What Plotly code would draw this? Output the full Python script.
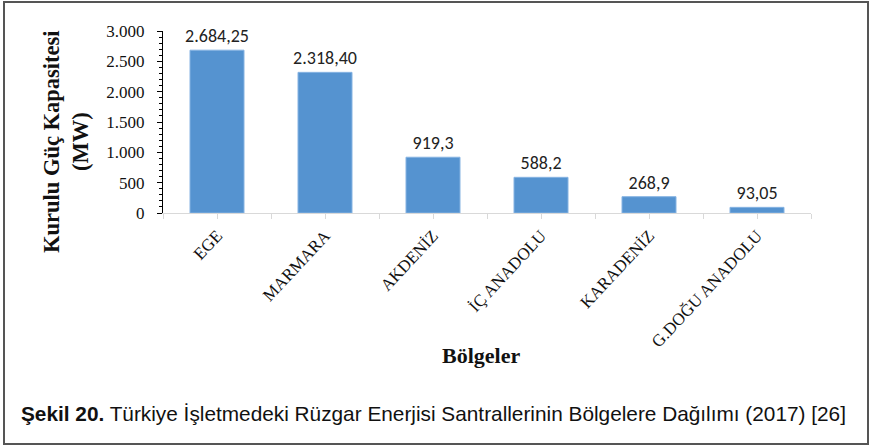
import plotly.graph_objects as go

categories = ["EGE", "MARMARA", "AKDENİZ", "İÇ ANADOLU", "KARADENİZ", "G.DOĞU ANADOLU"]
values = [2684.25, 2318.40, 919.3, 588.2, 268.9, 93.05]
value_labels = ["2.684,25", "2.318,40", "919,3", "588,2", "268,9", "93,05"]
y_ticks = [0, 500, 1000, 1500, 2000, 2500, 3000]

W, H = 869, 447
L, R, T, B = 163, 58, 31, 234
pw, ph = W - L - R, H - T - B

def px(x):
    return (x - L) / pw

def py(y):
    return (H - B - y) / ph

xs = list(range(len(categories)))

fig = go.Figure()
fig.add_trace(go.Bar(
    x=xs, y=values, width=0.5,
    text=value_labels, textposition="outside", constraintext="none",
    textfont=dict(family="Carlito, Lato, Open Sans, sans-serif", size=18, color="#222222"),
    cliponaxis=False,
    marker=dict(color="#5593d0", line=dict(color="#86b3e2", width=1)),
))

serif = "Liberation Serif, Times New Roman, serif"
fig.update_layout(
    width=W, height=H,
    margin=dict(l=L, r=R, t=T, b=B),
    plot_bgcolor="white", paper_bgcolor="white",
    separators=",.",
    showlegend=False,
    bargap=0.5,
    xaxis=dict(
        range=[-0.5, len(categories) - 0.5],
        tickvals=xs, ticktext=categories, tickangle=-47,
        tickfont=dict(family=serif, size=17, color="#111111"),
        showline=True, linecolor="#d9d9d9", linewidth=1,
        ticks="outside", ticklen=5, tickcolor="#d9d9d9",
        minor=dict(tick0=-0.5, dtick=0.5, ticks="outside", ticklen=5, tickcolor="#d9d9d9"),
        showgrid=False, zeroline=False,
    ),
    yaxis=dict(
        range=[0, 3000],
        tickvals=y_ticks, tickformat=",",
        tickfont=dict(family=serif, size=17, color="#111111"),
        showline=True, linecolor="black", linewidth=1,
        ticks="outside", ticklen=5, tickcolor="black",
        ticklabelstandoff=9,
        minor=dict(dtick=100, ticks="outside", ticklen=3, tickcolor="black"),
        showgrid=False, zeroline=False,
    ),
    shapes=[dict(
        type="rect", xref="paper", yref="paper",
        x0=px(4), x1=px(868), y0=py(444), y1=py(2),
        line=dict(color="#555555", width=2), fillcolor="rgba(0,0,0,0)", layer="below",
    )],
    annotations=[
        dict(text="<b>Kurulu Güç Kapasitesi<br>(MW)</b>", xref="paper", yref="paper",
             x=px(66), y=py(142), textangle=-90, showarrow=False,
             font=dict(family=serif, size=22.5, color="#111111"),
             xanchor="center", yanchor="middle"),
        dict(text="<b>Bölgeler</b>", xref="paper", yref="paper",
             x=px(481), y=py(355), showarrow=False,
             font=dict(family=serif, size=22, color="#111111"),
             xanchor="center", yanchor="middle"),
        dict(text="<b>Şekil 20.</b> Türkiye İşletmedeki Rüzgar Enerjisi Santrallerinin Bölgelere Dağılımı (2017) [26]",
             xref="paper", yref="paper", x=px(19), y=py(413), showarrow=False,
             font=dict(family="Liberation Sans, Arial, sans-serif", size=20.8, color="#111111"),
             xanchor="left", yanchor="middle"),
    ],
)

fig.write_html("out.html", config={"displayModeBar": False},
               post_script="document.body.style.margin='0';")
